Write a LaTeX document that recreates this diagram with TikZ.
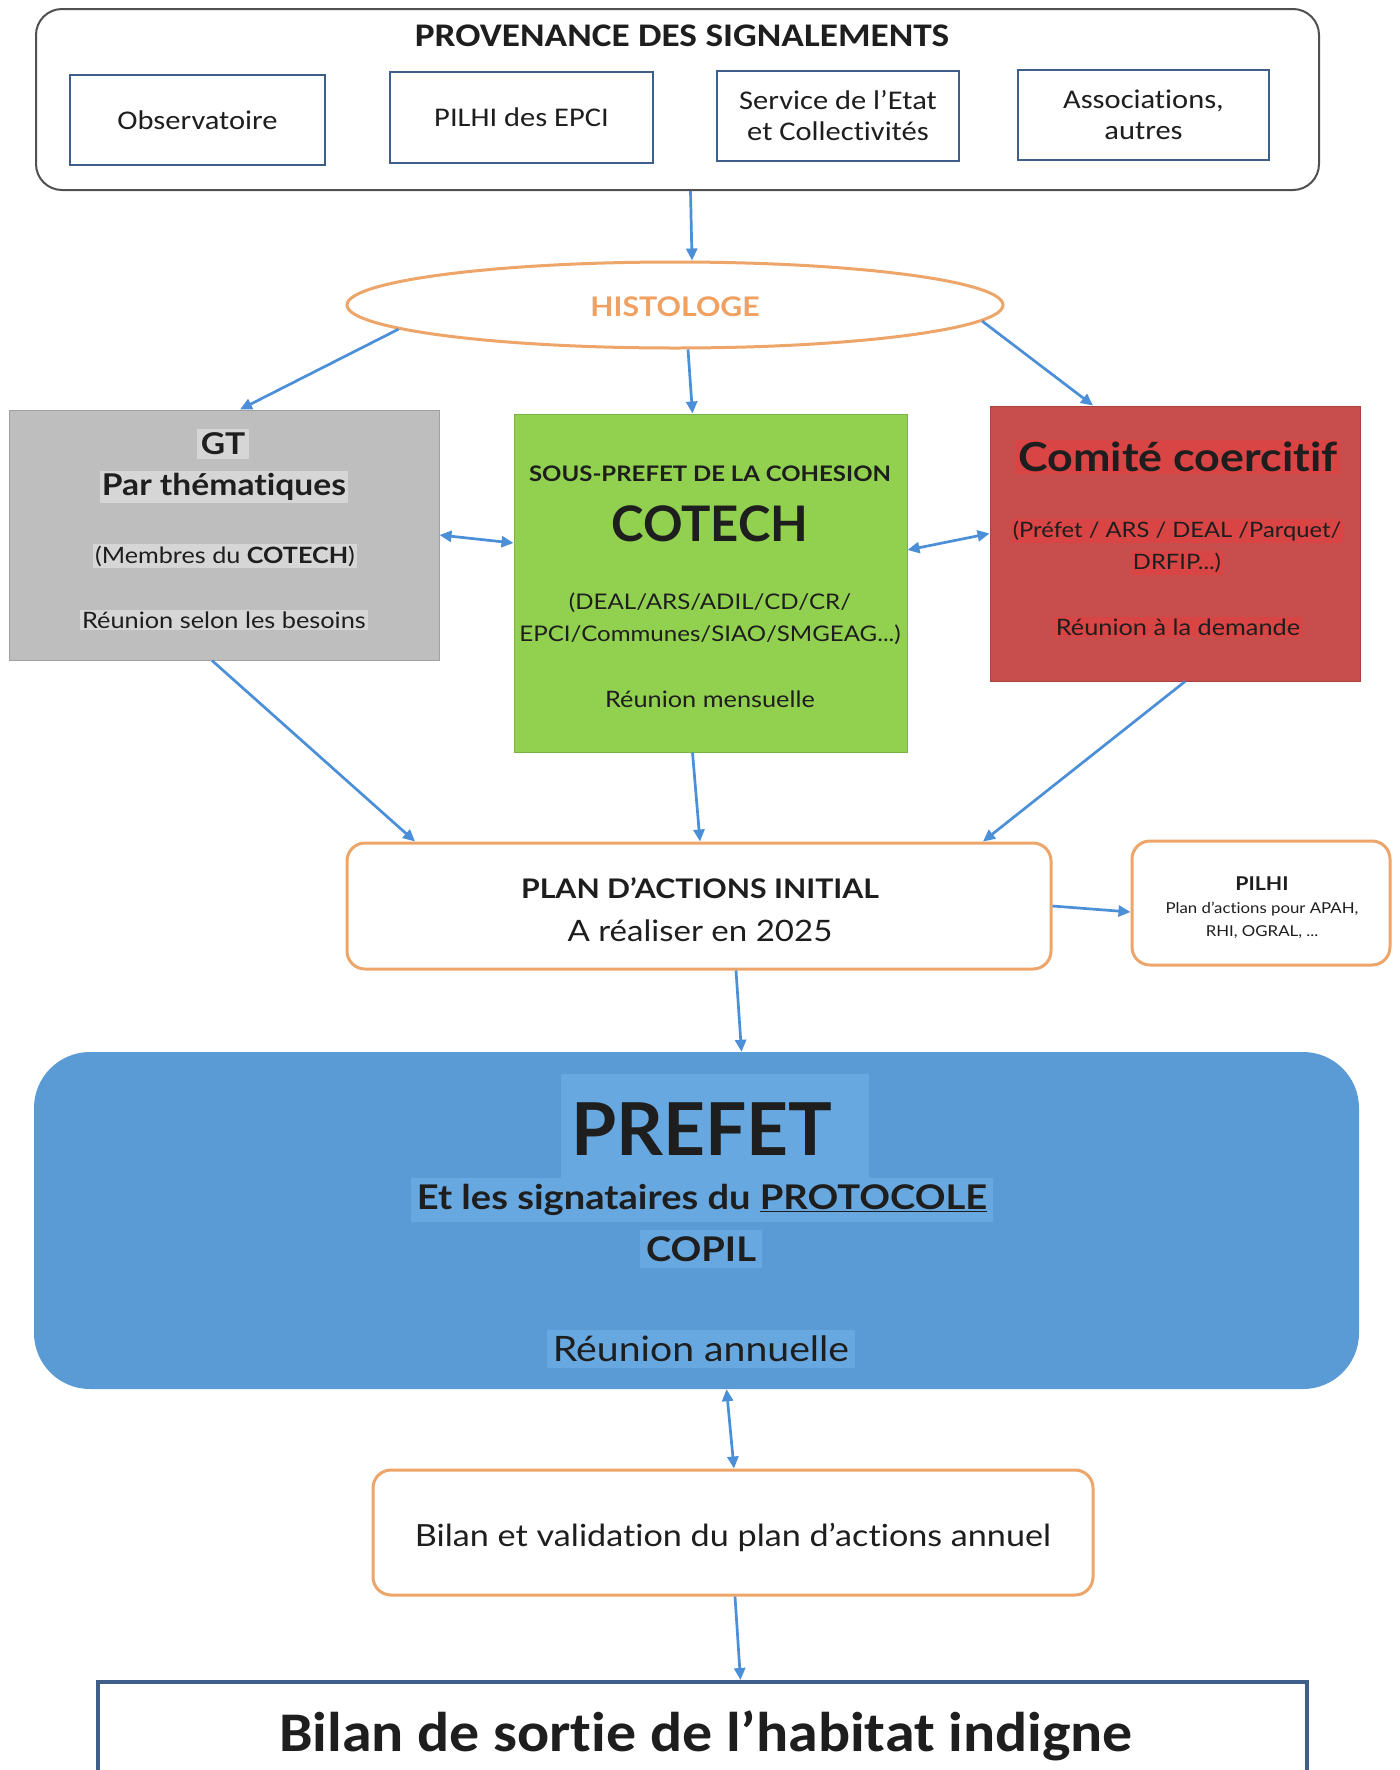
\documentclass[tikz,border=0pt]{standalone}
\usepackage{fontspec}
\setmainfont{Lato}[FakeStretch=1.12,Ligatures=NoCommon]
\newfontfamily\latonorm{Lato}[Ligatures=NoCommon]
\newfontfamily\calfont{Carlito}[FakeStretch=1.13,Ligatures=NoCommon]
\newfontfamily\calfontb{Carlito}[FakeStretch=1.07,Ligatures=NoCommon]
\usetikzlibrary{arrows.meta,shapes.geometric,calc}
\definecolor{arrowblue}{HTML}{4A8FD8}
\definecolor{framegray}{HTML}{505050}
\definecolor{slate}{HTML}{3F5F8A}
\definecolor{orangeline}{HTML}{EDA56A}
\definecolor{orangetext}{HTML}{F0A060}
\definecolor{gtfill}{HTML}{BEBEBE}
\definecolor{gthl}{HTML}{D6D6D6}
\definecolor{greenfill}{HTML}{92D050}
\definecolor{redfill}{HTML}{C84E4E}
\definecolor{redhl}{HTML}{D94444}
\definecolor{bluefill}{HTML}{5B9BD5}
\definecolor{bluehl}{HTML}{68A8E0}
\definecolor{ink}{HTML}{1E1E1E}
\newcommand\fsz[1]{\fontsize{#1pt}{#1pt}\selectfont}
\begin{document}
\begin{tikzpicture}[x=1pt,y=-1pt,
  arr/.style={draw=arrowblue,line width=2.7pt,-{Triangle[length=12pt,width=11pt]}},
  darr/.style={draw=arrowblue,line width=2.7pt,{Triangle[length=12pt,width=11pt]}-{Triangle[length=12pt,width=11pt]}},
  srcbox/.style={draw=slate,line width=2.5pt,fill=white,inner sep=0pt,align=center,text=ink,font=\calfont\fsz{27}},
  obox/.style={draw=orangeline,line width=3pt,rounded corners=18pt,fill=white,inner sep=0pt},
  txt/.style={text=ink,inner sep=2pt,align=center}]
\clip (0,0) rectangle (1400,1770);
\fill[white] (0,0) rectangle (1400,1770);

% top frame
\node[draw=framegray,line width=2pt,rounded corners=26pt,minimum width=1283pt,minimum height=181pt] (top) at (677.5,99.5) {};
\node[txt,font=\calfont\bfseries\fsz{33}] (toptitle) at (682,36) {PROVENANCE DES SIGNALEMENTS};
\node[srcbox,minimum width=255pt,minimum height=90pt] (s1) at (197.5,120) {Observatoire};
\node[srcbox,minimum width=263pt,minimum height=91pt] (s2) at (521.5,117.5) {PILHI des EPCI};
\node[srcbox,minimum width=242pt,minimum height=90pt] (s3) at (838,116) {Service de l’Etat\\[4pt]et Collectivités};
\node[srcbox,minimum width=251pt,minimum height=90pt] (s4) at (1143.5,115) {Associations,\\[4pt]autres};

% ellipse
\node[ellipse,draw=orangeline,line width=3pt,minimum width=656pt,minimum height=86pt,inner sep=0pt] (hist) at (675,305) {};
\node[text=orangetext,font=\bfseries\fsz{27}] (histtxt) at (675,307) {HISTOLOGE};

% GT box
\node[fill=gtfill,draw=gtfill!85!black,line width=1pt,minimum width=430pt,minimum height=250pt,inner sep=0pt] (gt) at (224,535) {};
\node[txt,fill=gthl,inner sep=4pt,font=\bfseries\fsz{30}] (gt1) at (223,444) {GT};
\node[txt,fill=gthl,font=\bfseries\fsz{30}] (gt2) at (224,487) {Par thématiques};
\node[txt,fill=gthl,font=\fsz{22.5}] (gt3) at (225,556) {(Membres du \textbf{COTECH})};
\node[txt,fill=gthl,font=\fsz{22.6}] (gt4) at (224,620) {Réunion selon les besoins};

% COTECH box
\node[fill=greenfill,draw=greenfill!85!black,line width=1pt,minimum width=393pt,minimum height=338pt,inner sep=0pt] (cotech) at (710.5,583) {};
\node[txt,font=\bfseries\fsz{21.4}] (c1) at (710,474) {SOUS-PREFET DE LA COHESION};
\node[txt,font=\latonorm\bfseries\fsz{49}] (c2) at (710,524) {COTECH};
\node[txt,font=\fsz{21.5}] (c3) at (710,603) {(DEAL/ARS/ADIL/CD/CR/};
\node[txt,font=\fsz{21.5}] (c4) at (710,635) {EPCI/Communes/SIAO/SMGEAG...)};
\node[txt,font=\fsz{22.6}] (c5) at (710,699) {Réunion mensuelle};

% Comite box
\node[fill=redfill,draw=redfill!85!black,line width=1pt,minimum width=370pt,minimum height=275pt,inner sep=0pt] (com) at (1175,543.5) {};
\node[txt,fill=redhl,font=\bfseries\fsz{40}] (r1) at (1178,457) {Comité coercitif};
\node[txt,fill=redhl,font=\fsz{21.2}] (r2) at (1177,531) {(Préfet / ARS / DEAL /Parquet/};
\node[txt,fill=redhl,font=\fsz{21.2}] (r3) at (1177,563) {DRFIP...)};
\node[txt,fill=redhl,font=\fsz{22.6}] (r4) at (1178,627) {Réunion à la demande};

% plan box
\node[obox,minimum width=704pt,minimum height=126pt] (plan) at (699,906) {};
\node[txt,font=\bfseries\fsz{27}] (p1) at (700,888) {PLAN D’ACTIONS INITIAL};
\node[txt,font=\fsz{29.5}] (p2) at (700,931) {A réaliser en 2025};

% PILHI box
\node[obox,minimum width=258pt,minimum height=124pt] (pilhi) at (1261,903) {};
\node[txt,font=\bfseries\fsz{19}] (pi1) at (1262,884) {PILHI};
\node[txt,font=\fsz{15}] (pi2) at (1262,909) {Plan d’actions pour APAH,};
\node[txt,font=\fsz{15}] (pi3) at (1262,932) {RHI, OGRAL, ...};

% PREFET box
\node[fill=bluefill,rounded corners=56pt,minimum width=1325pt,minimum height=337pt,inner sep=0pt] (prefet) at (696.5,1220.5) {};
\node[fill=bluehl,minimum width=308pt,minimum height=107pt,inner sep=0pt] (pfhl) at (715,1127) {};
\node[text=ink,font=\latonorm\bfseries\fsz{73}] (pf1) at (702,1129) {PREFET};
\node[txt,fill=bluehl,inner sep=6pt,font=\bfseries\fsz{34}] (pf2) at (702,1200) {Et les signataires du \underline{PROTOCOLE}};
\node[txt,fill=bluehl,inner sep=6pt,font=\bfseries\fsz{34}] (pf3) at (701,1249) {COPIL};
\node[txt,fill=bluehl,inner sep=6pt,font=\fsz{35}] (pf4) at (701,1349) {Réunion annuelle};

% bilan validation
\node[obox,minimum width=720pt,minimum height=125pt] (bv) at (733,1532.5) {};
\node[txt,font=\fsz{30.5}] (bvt) at (733,1537) {Bilan et validation du plan d’actions annuel};

% final
\node[draw=slate,line width=4pt,fill=white,minimum width=1209pt,minimum height=110pt,inner sep=0pt] (final) at (702.5,1737) {};
\node[txt,font=\calfontb\bfseries\fsz{56}] (fint) at (706,1736) {Bilan de sortie de l’habitat indigne};

% connectors
\draw[arr] ([xshift=13pt]top.south) -- ([xshift=17pt]hist.north);
\draw[arr] (hist.185) -- ([xshift=16pt]gt.north);
\draw[arr] ([xshift=13pt]hist.south) -- ([xshift=-18pt]cotech.north);
\draw[arr] (hist.-3) -- ([xshift=-82pt]com.north);
\draw[darr] (gt.east) -- ([yshift=40pt]cotech.west);
\draw[darr] ([yshift=33pt]cotech.east) -- ([yshift=10pt]com.west);
\draw[arr] ([xshift=-12pt]gt.south) -- ([xshift=-284pt]plan.north);
\draw[arr] ([xshift=-18pt]cotech.south) -- ([xshift=1pt]plan.north);
\draw[arr] ([xshift=10pt]com.south) -- ([xshift=284pt]plan.north);
\draw[arr] (plan.east) -- ([yshift=-9pt]pilhi.west);
\draw[arr] ([xshift=37pt]plan.south) -- ([xshift=45pt]prefet.north);
\draw[darr] ([xshift=30pt]prefet.south) -- ([xshift=1pt]bv.north);
\draw[arr] ([xshift=2pt]bv.south) -- ([xshift=38pt]final.north);
\end{tikzpicture}
\end{document}
